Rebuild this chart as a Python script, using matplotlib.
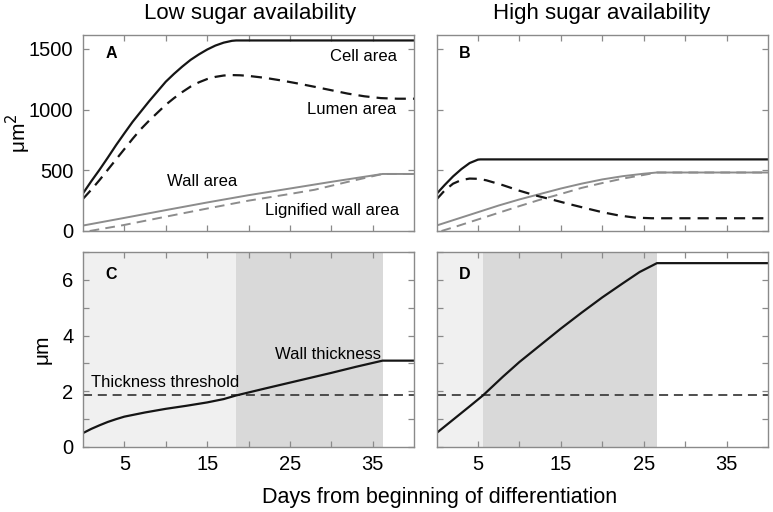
import matplotlib
matplotlib.use("Agg")
import matplotlib.pyplot as plt
from matplotlib.ticker import FixedLocator

plt.rcParams['font.family'] = ['Liberation Sans', 'DejaVu Sans']

# ---------------- data ----------------
# Panel A (low sugar)
days_cell_A = [0, 1, 2, 3, 4, 5, 6, 7, 8, 9, 10, 11, 12, 13, 14, 15, 16, 17, 18, 18.5, 40]
cell_A = [310, 410, 505, 605, 708, 805, 900, 985, 1070, 1150, 1230, 1295, 1355, 1410, 1455, 1495, 1528, 1552, 1567, 1570, 1570]
days_lumen_A = [0, 1, 2, 3, 4, 5, 6, 7, 8, 9, 10, 11, 12, 13, 14, 15, 16, 17, 17.8, 19, 20, 22, 24, 26,
                28, 30, 32, 34, 36, 38, 40]
lumen_A = [265, 340, 420, 505, 590, 675, 760, 840, 910, 975, 1040, 1095, 1145, 1190, 1225, 1252, 1270,
           1281, 1285, 1283, 1278, 1262, 1240, 1215, 1188, 1160, 1132, 1110, 1095, 1090, 1090]
days_wall_A = [0, 5, 10, 15, 20, 25, 30, 36.2, 40]
wall_A = [45, 108, 172, 235, 295, 350, 405, 470, 470]
days_lig_A = [0.8, 5, 10, 15, 20, 25, 28, 32, 36.2, 40]
lig_A = [0, 50, 118, 185, 250, 305, 340, 405, 470, 470]

# Panel B (high sugar)
days_cell_B = [0, 1, 2, 3, 4, 5, 5.3, 40]
cell_B = [305, 380, 450, 510, 560, 588, 590, 590]
days_lumen_B = [0, 1, 2, 3, 4, 5, 6, 8, 10, 12, 14, 16, 18, 20, 22, 24, 26, 40]
lumen_B = [260, 335, 390, 420, 432, 430, 418, 378, 332, 292, 258, 222, 188, 155, 128, 110, 105, 105]
days_wall_B = [0, 2.5, 5, 7.5, 10, 12.5, 15, 17.5, 20, 22.5, 25, 26.6, 40]
wall_B = [45, 100, 155, 210, 260, 305, 350, 390, 425, 452, 472, 482, 482]
days_lig_B = [0.6, 2.5, 5, 7.5, 10, 12.5, 15, 17.5, 20, 22.5, 25, 26.6, 40]
lig_B = [0, 40, 95, 150, 205, 258, 305, 355, 395, 432, 462, 482, 482]

# Panel C (low sugar) wall thickness
days_thick_C = [0, 1, 2, 3, 4, 5, 7.5, 10, 12.5, 15, 17, 18.5, 22, 26, 30, 33, 36.2, 40]
thick_C = [0.5, 0.65, 0.78, 0.9, 1.0, 1.09, 1.24, 1.37, 1.48, 1.6, 1.72, 1.85, 2.1, 2.38, 2.66, 2.88, 3.1, 3.1]
# Panel D (high sugar) wall thickness
days_thick_D = [0, 2, 4, 5.6, 8, 10, 12.5, 15, 17.5, 20, 22.5, 24.5, 26.6, 40]
thick_D = [0.5, 0.98, 1.46, 1.85, 2.52, 3.05, 3.65, 4.25, 4.82, 5.37, 5.88, 6.28, 6.6, 6.6]

threshold = 1.85
phases_C = [0, 18.5, 36.2]   # light phase start, dark phase start, dark phase end
phases_D = [0, 5.6, 26.6]

xticks_major = [5, 10, 15, 20, 25, 30, 35]
xtick_labels = ['5', '', '15', '', '25', '', '35']
yticks_area = [0, 500, 1000, 1500]
yticks_thick = [0, 1, 2, 3, 4, 5, 6, 7]
ytick_thick_labels = ['0', '', '2', '', '4', '', '6', '']

titles = ['Low sugar availability', 'High sugar availability']
xlabel = 'Days from beginning of differentiation'

# ---------------- figure ----------------
W, H = 773, 512
fig = plt.figure(figsize=(W / 100, H / 100), dpi=100)

def rect(l, t, r, b):
    return [l / W, 1 - b / H, (r - l) / W, (b - t) / H]

axA = fig.add_axes(rect(83, 35, 414, 231))
axB = fig.add_axes(rect(436.5, 35, 768, 231))
axC = fig.add_axes(rect(83, 252, 414, 447))
axD = fig.add_axes(rect(436.5, 252, 768, 447))

spine_col = '#8a8a8a'
black = '#151515'
gray = '#8c8c8c'
light = '#f0f0f0'
dark = '#d9d9d9'

for ax in (axA, axB, axC, axD):
    ax.set_xlim(0, 40)
    ax.xaxis.set_major_locator(FixedLocator(xticks_major))
    ax.tick_params(direction='in', length=4, width=0.9, color=spine_col, top=True, right=True,
                   labelsize=14.5, pad=6)
    ax.tick_params(axis='y', pad=7)
    for s in ax.spines.values():
        s.set_color(spine_col)
        s.set_linewidth(1.0)

for ax in (axA, axB):
    ax.set_ylim(0, 1615)
    ax.yaxis.set_major_locator(FixedLocator(yticks_area))
    ax.set_xticklabels([])
for ax in (axC, axD):
    ax.set_ylim(0, 7)
    ax.yaxis.set_major_locator(FixedLocator(yticks_thick))
    ax.set_xticklabels(xtick_labels)
axA.set_yticklabels([str(v) for v in yticks_area])
axB.set_yticklabels([])
axC.set_yticklabels(ytick_thick_labels)
axD.set_yticklabels([])

dash = (5.0, 3.2)
# Area panels
for ax, dc, c, dl, l, dw, w, dg, g in (
        (axA, days_cell_A, cell_A, days_lumen_A, lumen_A, days_wall_A, wall_A, days_lig_A, lig_A),
        (axB, days_cell_B, cell_B, days_lumen_B, lumen_B, days_wall_B, wall_B, days_lig_B, lig_B)):
    ax.plot(dw, w, color=gray, lw=1.4, solid_capstyle='butt')
    ax.plot(dg, g, color=gray, lw=1.4, dashes=dash)
    ax.plot(dc, c, color=black, lw=1.6)
    ax.plot(dl, l, color=black, lw=1.6, dashes=dash)

# Thickness panels
for ax, ph, d, t in ((axC, phases_C, days_thick_C, thick_C), (axD, phases_D, days_thick_D, thick_D)):
    ax.axvspan(ph[0], ph[1], color=light, lw=0, zorder=0)
    ax.axvspan(ph[1], ph[2], color=dark, lw=0, zorder=0)
    ax.axhline(threshold, color='#404040', lw=1.3, dashes=dash)
    ax.plot(d, t, color=black, lw=1.6)

# Text annotations
fs = 12
lfs = 11.5
axA.text(2.7, 1464, 'A', fontsize=lfs, fontweight='bold', va='center', ha='left')
axB.text(2.7, 1464, 'B', fontsize=lfs, fontweight='bold', va='center', ha='left')
axC.text(2.7, 6.18, 'C', fontsize=lfs, fontweight='bold', va='center', ha='left')
axD.text(2.7, 6.18, 'D', fontsize=lfs, fontweight='bold', va='center', ha='left')
axA.text(38.0, 1436, 'Cell area', fontsize=fs, ha='right', va='center')
axA.text(37.8, 998, 'Lumen area', fontsize=fs, ha='right', va='center')
axA.text(10.2, 406, 'Wall area', fontsize=fs, ha='left', va='center')
axA.text(38.2, 173, 'Lignified wall area', fontsize=fs, ha='right', va='center')
axC.text(36.0, 3.33, 'Wall thickness', fontsize=fs, ha='right', va='center')
axC.text(1.0, 2.32, 'Thickness threshold', fontsize=fs, ha='left', va='center')

fig.text(250 / W, 1 - 13.5 / H, titles[0], fontsize=16, ha='center', va='center')
fig.text(602 / W, 1 - 13.5 / H, titles[1], fontsize=16, ha='center', va='center')
fig.text(18 / W, 1 - 133 / H, 'μm$^2$', fontsize=15, rotation=90, ha='center', va='center')
fig.text(42 / W, 1 - 349 / H, 'μm', fontsize=15, rotation=90, ha='center', va='center')
fig.text(440 / W, 1 - 497 / H, xlabel, fontsize=15.5, ha='center', va='center')

fig.savefig('out.png', dpi=100)
